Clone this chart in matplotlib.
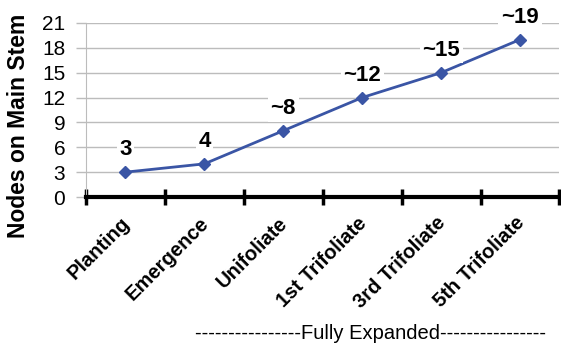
import matplotlib.pyplot as plt
import matplotlib.transforms as mtransforms
import numpy as np

plt.rcParams['font.family'] = ['Liberation Sans', 'DejaVu Sans']

stages = ['Planting', 'Emergence', 'Unifoliate', '1st Trifoliate',
          '3rd Trifoliate', '5th Trifoliate']
nodes = [3, 4, 8, 12, 15, 19]
labels = ['3', '4', '~8', '~12', '~15', '~19']
yticks = [0, 3, 6, 9, 12, 15, 18, 21]

fig = plt.figure(figsize=(5.61, 3.46), dpi=100)
ax = fig.add_axes([0.1533, 0.4306, 0.844, 0.503])

xpos = np.arange(len(stages)) + 0.5
ax.plot(xpos, nodes, color='#3a55a5', lw=2, marker='D', ms=6, zorder=3, clip_on=False)
for x, y, t in zip(xpos, nodes, labels):
    ax.text(x, y + 2.7, t, ha='center', va='center', fontsize=16, fontweight='bold',
            bbox=dict(facecolor='white', edgecolor='none', pad=2), zorder=4, clip_on=False)

ax.set_xlim(0, 6)
ax.set_ylim(0, 21)
ax.set_yticks(yticks)
ax.set_yticklabels([str(v) for v in yticks], fontsize=15)
ax.grid(axis='y', color='#bcbcbc', lw=1, zorder=0)
ax.tick_params(axis='y', length=7, color='#bcbcbc', width=1, pad=8)

ax.set_xticks(np.arange(7))
ax.set_xticklabels([])
ax.set_xticks(xpos, minor=True)
ax.set_xticklabels(stages, minor=True, rotation=45, ha='right', va='top',
                   rotation_mode='anchor', fontsize=14.5, fontweight='bold')
ax.tick_params(axis='x', which='major', direction='inout', length=11, width=2.5, color='black')
ax.tick_params(axis='x', which='minor', length=0, pad=6)
shift = mtransforms.ScaledTranslation(-5 / 100, -8 / 100, fig.dpi_scale_trans)
for lab in ax.get_xticklabels(minor=True):
    lab.set_transform(lab.get_transform() + shift)

for s in ['top', 'right']:
    ax.spines[s].set_visible(False)
ax.spines['left'].set_color('#bcbcbc')
ax.spines['bottom'].set_linewidth(3)
ax.spines['bottom'].set_zorder(5)

fig.text(18.5 / 561, 0.636, 'Nodes on Main Stem', rotation=90, ha='center', va='center',
         fontsize=16.5, fontweight='bold')

fig.text(0.66, 0.035, '-' * 16 + 'Fully Expanded' + '-' * 16, ha='center', va='center', fontsize=14.5)

fig.savefig('out.png')
